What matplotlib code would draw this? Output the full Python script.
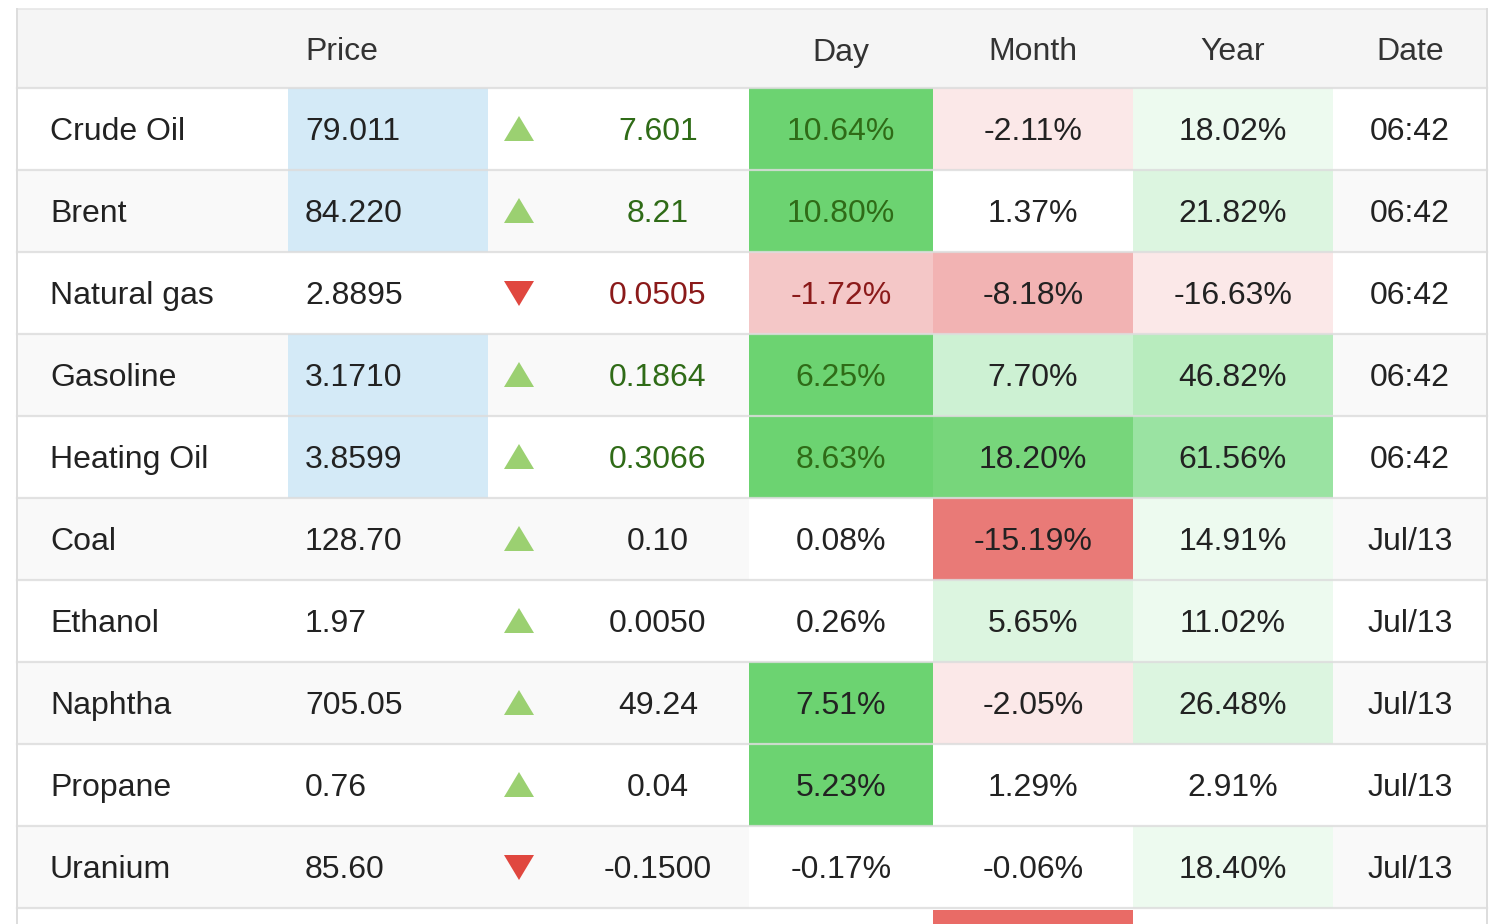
import matplotlib.pyplot as plt
from matplotlib.patches import Rectangle, Polygon

# Table contents
names = ["Crude Oil", "Brent", "Natural gas", "Gasoline", "Heating Oil",
         "Coal", "Ethanol", "Naphtha", "Propane", "Uranium"]
prices = ["79.011", "84.220", "2.8895", "3.1710", "3.8599",
          "128.70", "1.97", "705.05", "0.76", "85.60"]
direction = ["up", "up", "down", "up", "up", "up", "up", "up", "up", "down"]
changes = ["7.601", "8.21", "0.0505", "0.1864", "0.3066",
           "0.10", "0.0050", "49.24", "0.04", "-0.1500"]
day_pct = ["10.64%", "10.80%", "-1.72%", "6.25%", "8.63%",
           "0.08%", "0.26%", "7.51%", "5.23%", "-0.17%"]
month_pct = ["-2.11%", "1.37%", "-8.18%", "7.70%", "18.20%",
             "-15.19%", "5.65%", "-2.05%", "1.29%", "-0.06%"]
year_pct = ["18.02%", "21.82%", "-16.63%", "46.82%", "61.56%",
            "14.91%", "11.02%", "26.48%", "2.91%", "18.40%"]
dates = ["06:42"] * 5 + ["Jul/13"] * 5
headers = ["", "Price", "", "", "Day", "Month", "Year", "Date"]

# Cell shading (heat colours as shown on the page)
W = "#ffffff"
price_bg = ["#d4eaf7", "#d4eaf7", None, "#d4eaf7", "#d4eaf7", None, None, None, None, None]
day_bg = ["#6cd371", "#6cd371", "#f4c7c7", "#6cd371", "#6cd371",
          W, W, "#6cd371", "#6cd371", W]
month_bg = ["#fbe8e8", W, "#f2b3b3", "#cdf1d3", "#77d67b",
            "#e97a77", "#dcf5e0", "#fbe8e8", W, W]
year_bg = ["#edfaef", "#dcf5e0", "#fbe8e8", "#b8ecbe", "#9ae3a2",
           "#edfaef", "#edfaef", "#dcf5e0", W, "#edfaef"]
live = [True] * 5 + [False] * 5   # realtime rows get coloured change text

GREEN_TXT = "#2f6b17"
RED_TXT = "#8b1a1a"
TXT = "#222222"
LINE = "#dddddd"

x_edges = [17, 288, 488, 570, 749, 933, 1133, 1333, 1487]
head_top, head_bot = 9, 88
row_h = 82
dy = 3  # text sits a little below the geometric middle

plt.rcParams['font.family'] = ['Liberation Sans', 'DejaVu Sans']
fig = plt.figure(figsize=(14.96, 9.24), dpi=100)
ax = fig.add_axes([0, 0, 1, 1])
ax.set_xlim(0, 1496)
ax.set_ylim(924, 0)
ax.axis('off')

fs = 23


def cell(col, top, h, color):
    ax.add_patch(Rectangle((x_edges[col], top), x_edges[col + 1] - x_edges[col], h,
                           facecolor=color, edgecolor='none', zorder=1))


def center(col):
    return (x_edges[col] + x_edges[col + 1]) / 2


# header
ax.add_patch(Rectangle((x_edges[0], head_top), x_edges[-1] - x_edges[0], head_bot - head_top,
                       facecolor="#f5f5f5", edgecolor='none', zorder=0))
hy = (head_top + head_bot) / 2 + 4
for c, h in enumerate(headers):
    if not h:
        continue
    if c == 1:
        ax.text(305, hy, h, fontsize=fs, color="#333333", ha='left', va='center')
    else:
        ax.text(center(c), hy, h, fontsize=fs, color="#333333", ha='center', va='center')

n = len(names)
for i in range(n + 1):
    top = head_bot + i * row_h
    stripe = "#f9f9f9" if i % 2 == 1 else "#ffffff"
    ax.add_patch(Rectangle((x_edges[0], top), x_edges[-1] - x_edges[0], row_h,
                           facecolor=stripe, edgecolor='none', zorder=0))
    if i == n:
        # partially visible next row
        cell(5, top + 2, row_h, "#e96b66")
        break
    cy = top + row_h / 2
    ty = cy + dy
    if price_bg[i]:
        cell(1, top, row_h, price_bg[i])
    cell(4, top, row_h, day_bg[i])
    cell(5, top, row_h, month_bg[i])
    cell(6, top, row_h, year_bg[i])

    if live[i]:
        ctxt = GREEN_TXT if direction[i] == "up" else RED_TXT
    else:
        ctxt = TXT

    ax.text(50, ty, names[i], fontsize=fs, color=TXT, ha='left', va='center', zorder=3)
    ax.text(305, ty, prices[i], fontsize=fs, color=TXT, ha='left', va='center', zorder=3)

    ax_c = 519
    if direction[i] == "up":
        tri = [(ax_c - 15, cy + 12), (ax_c + 15, cy + 12), (ax_c, cy - 13)]
        tcol = "#9bd071"
    else:
        tri = [(ax_c - 15, cy - 12), (ax_c + 15, cy - 12), (ax_c, cy + 13)]
        tcol = "#e0473f"
    ax.add_patch(Polygon(tri, closed=True, facecolor=tcol, edgecolor='none', zorder=3))

    ax.text(658, ty, changes[i], fontsize=fs, color=ctxt, ha='center', va='center', zorder=3)
    ax.text(center(4), ty, day_pct[i], fontsize=fs, color=ctxt, ha='center', va='center', zorder=3)
    ax.text(center(5), ty, month_pct[i], fontsize=fs, color=TXT, ha='center', va='center', zorder=3)
    ax.text(center(6), ty, year_pct[i], fontsize=fs, color=TXT, ha='center', va='center', zorder=3)
    ax.text(1410, ty, dates[i], fontsize=fs, color=TXT, ha='center', va='center', zorder=3)

# grid lines
ax.plot([x_edges[0], x_edges[-1]], [head_top, head_top], color="#e6e6e6", lw=1.2, zorder=2)
for i in range(n + 1):
    y = head_bot + i * row_h
    ax.plot([x_edges[0], x_edges[-1]], [y, y], color=LINE, lw=1.6, alpha=0.85, zorder=2)
for x in (x_edges[0], x_edges[-1]):
    ax.plot([x, x], [head_top, 924], color=LINE, lw=1.4, zorder=2)

fig.savefig("out.png", dpi=100)
